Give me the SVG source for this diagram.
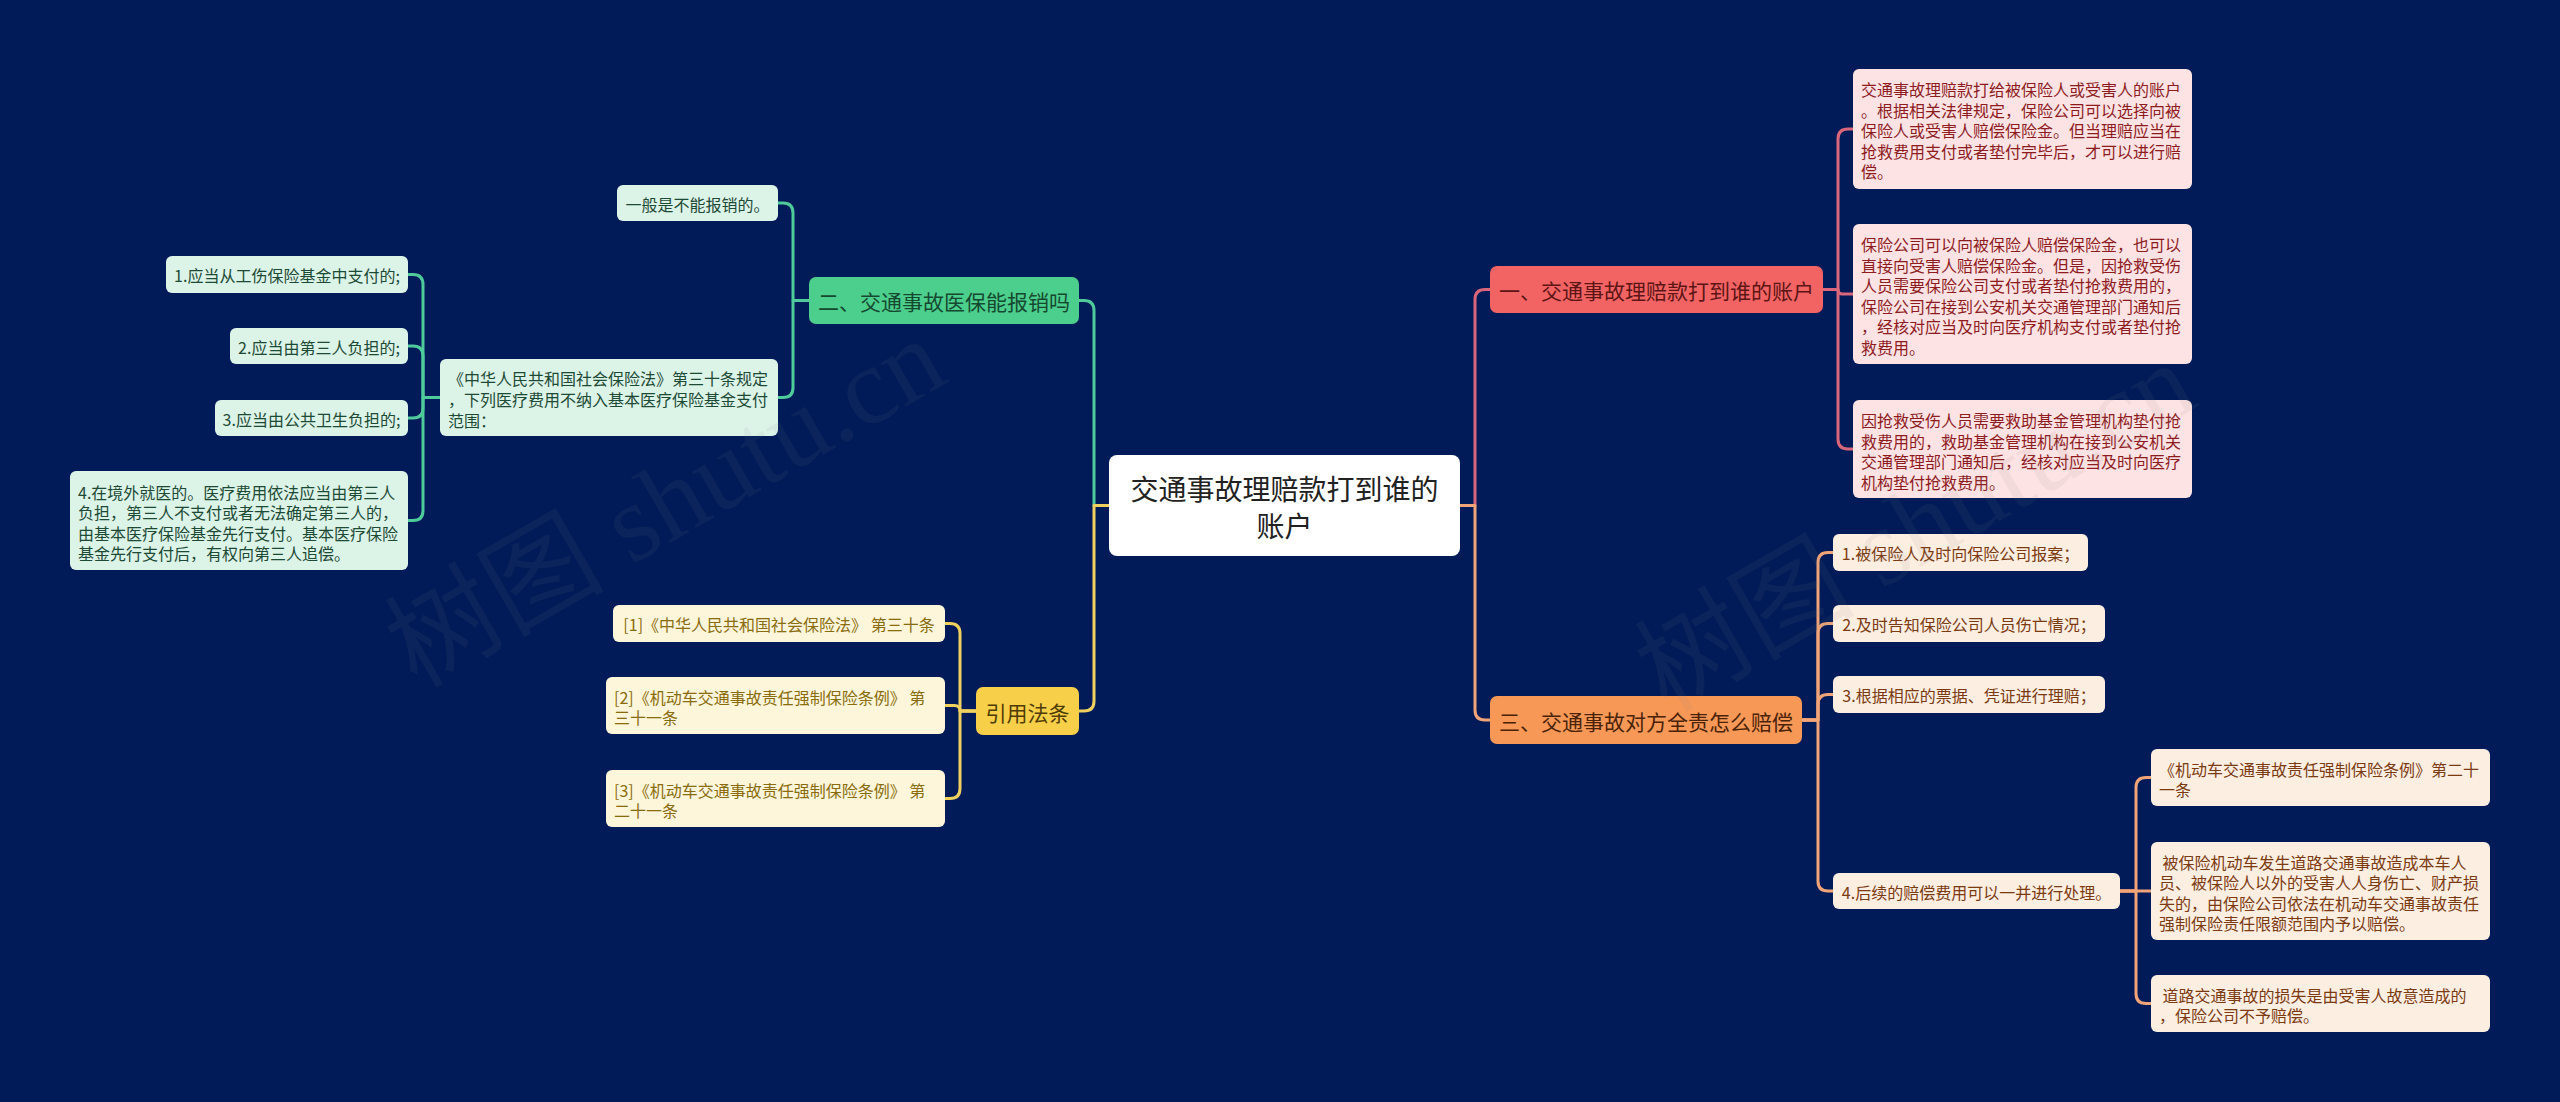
<svg xmlns="http://www.w3.org/2000/svg" width="2560" height="1102" viewBox="0 0 2560 1102">
<defs>
<style>
text{font-family:"Noto Sans CJK SC","Noto Sans",sans-serif;}
.c{fill:none;stroke-width:3;stroke-linecap:round;stroke-linejoin:round;}
.cp{stroke:#d9667a;}
.cg{stroke:#4fcb9b;}
.co{stroke:#f0a477;}
.cy{stroke:#f1d15e;}
.root{fill:#ffffff;}
.roott{font-size:28px;fill:#222222;text-anchor:middle;dominant-baseline:central;}
.mt{font-size:21px;dominant-baseline:central;text-anchor:middle;}
.lt{font-size:16px;dominant-baseline:central;}
.mid{text-anchor:middle;}
.nr{fill:#f26464;} .nrt{fill:#5c1414;}
.ng{fill:#4ccf8d;} .ngt{fill:#14492f;}
.no{fill:#f79857;} .not{fill:#4a2207;}
.ny{fill:#f8cf48;} .nyt{fill:#4e3b04;}
.lp{fill:#fde3e4;} .lpt{fill:#8e1c1f;}
.lg{fill:#dcf3e8;} .lgt{fill:#1d4a35;}
.lo{fill:#fdeee2;} .lot{fill:#7b3a10;}
.ly{fill:#fdf6da;} .lyt{fill:#8a6c0c;}
.wm{font-family:"Liberation Serif","Noto Sans CJK SC",serif;font-size:110px;fill:#808080;fill-opacity:0.09;}
</style>
</defs>
<rect x="0" y="0" width="2560" height="1102" fill="#011b58"/>

<g id="connectors">
<path class="c cp" d="M1460,505.5 H1475 V299.5 Q1475,289.5 1485,289.5 H1490"/>
<path class="c co" d="M1460,505.5 H1475 V710 Q1475,720 1485,720 H1490"/>
<path class="c cg" d="M1109,505.5 H1094 V310.5 Q1094,300.5 1084,300.5 H1079"/>
<path class="c cy" d="M1109,505.5 H1094 V701 Q1094,711 1084,711 H1079"/>

<path class="c cp" d="M1823,289.5 H1838 V139 Q1838,129 1848,129 H1853"/>
<path class="c cp" d="M1823,289.5 H1838 Q1838,294 1842.5,294 H1853"/>
<path class="c cp" d="M1823,289.5 H1838 V439 Q1838,449 1848,449 H1853"/>

<path class="c cg" d="M809,300.5 H793 V213 Q793,203 783,203 H778"/>
<path class="c cg" d="M809,300.5 H793 V387.5 Q793,397.5 783,397.5 H778"/>

<path class="c cg" d="M440,397.5 H423 V284.5 Q423,274.5 413,274.5 H408"/>
<path class="c cg" d="M440,397.5 H423 V356 Q423,346 413,346 H408"/>
<path class="c cg" d="M440,397.5 H423 V408 Q423,418 413,418 H408"/>
<path class="c cg" d="M440,397.5 H423 V510.5 Q423,520.5 413,520.5 H408"/>

<path class="c co" d="M1802,720 H1818 V562.5 Q1818,552.5 1828,552.5 H1833"/>
<path class="c co" d="M1802,720 H1818 V633.5 Q1818,623.5 1828,623.5 H1833"/>
<path class="c co" d="M1802,720 H1818 V704.5 Q1818,694.5 1828,694.5 H1833"/>
<path class="c co" d="M1802,720 H1818 V881 Q1818,891 1828,891 H1833"/>

<path class="c co" d="M2120,891 H2136 V787.5 Q2136,777.5 2146,777.5 H2151"/>
<path class="c co" d="M2120,891 H2151"/>
<path class="c co" d="M2120,891 H2136 V993.5 Q2136,1003.5 2146,1003.5 H2151"/>

<path class="c cy" d="M976,711 H960 V633.5 Q960,623.5 950,623.5 H945"/>
<path class="c cy" d="M976,711 H960 Q960,705.5 954.5,705.5 H945"/>
<path class="c cy" d="M976,711 H960 V788.5 Q960,798.5 950,798.5 H945"/>
</g>

<g id="root">
<rect class="root" x="1109" y="455" width="351" height="101" rx="8"/>
<text class="roott"><tspan x="1284.5" y="488">交通事故理赔款打到谁的</tspan><tspan x="1284.5" y="525">账户</tspan></text>
</g>

<g id="n1">
<rect class="nr" x="1490" y="266" width="333" height="47" rx="7"/>
<text class="mt nrt" x="1656.5" y="290">一、交通事故理赔款打到谁的账户</text>
</g>
<g id="n1-1">
<rect class="lp" x="1853" y="69" width="339" height="120" rx="6"/>
<text class="lt lpt"><tspan x="1861" y="89">交通事故理赔款打给被保险人或受害人的账户</tspan><tspan x="1861" y="109.5">。根据相关法律规定，保险公司可以选择向被</tspan><tspan x="1861" y="130">保险人或受害人赔偿保险金。但当理赔应当在</tspan><tspan x="1861" y="150.5">抢救费用支付或者垫付完毕后，才可以进行赔</tspan><tspan x="1861" y="171">偿。</tspan></text>
</g>
<g id="n1-2">
<rect class="lp" x="1853" y="224" width="339" height="140" rx="6"/>
<text class="lt lpt"><tspan x="1861" y="244">保险公司可以向被保险人赔偿保险金，也可以</tspan><tspan x="1861" y="264.5">直接向受害人赔偿保险金。但是，因抢救受伤</tspan><tspan x="1861" y="285">人员需要保险公司支付或者垫付抢救费用的，</tspan><tspan x="1861" y="305.5">保险公司在接到公安机关交通管理部门通知后</tspan><tspan x="1861" y="326">，经核对应当及时向医疗机构支付或者垫付抢</tspan><tspan x="1861" y="346.5">救费用。</tspan></text>
</g>
<g id="n1-3">
<rect class="lp" x="1853" y="400" width="339" height="98" rx="6"/>
<text class="lt lpt"><tspan x="1861" y="420">因抢救受伤人员需要救助基金管理机构垫付抢</tspan><tspan x="1861" y="440.5">救费用的，救助基金管理机构在接到公安机关</tspan><tspan x="1861" y="461">交通管理部门通知后，经核对应当及时向医疗</tspan><tspan x="1861" y="481.5">机构垫付抢救费用。</tspan></text>
</g>

<g id="n2">
<rect class="ng" x="809" y="277" width="270" height="47" rx="7"/>
<text class="mt ngt" x="944" y="301">二、交通事故医保能报销吗</text>
</g>
<g id="n2-1">
<rect class="lg" x="617" y="185" width="161" height="36" rx="6"/>
<text class="lt lgt mid" x="697.5" y="203.5">一般是不能报销的。</text>
</g>
<g id="n2-2">
<rect class="lg" x="440" y="359" width="338" height="77" rx="6"/>
<text class="lt lgt"><tspan x="448" y="377.5">《中华人民共和国社会保险法》第三十条规定</tspan><tspan x="448" y="398.5">，下列医疗费用不纳入基本医疗保险基金支付</tspan><tspan x="448" y="419.5">范围：</tspan></text>
</g>
<g id="n2-2-1">
<rect class="lg" x="166" y="256" width="242" height="37" rx="6"/>
<text class="lt lgt mid" x="287" y="275">1.应当从工伤保险基金中支付的;</text>
</g>
<g id="n2-2-2">
<rect class="lg" x="230" y="328" width="178" height="36" rx="6"/>
<text class="lt lgt mid" x="319" y="346.5">2.应当由第三人负担的;</text>
</g>
<g id="n2-2-3">
<rect class="lg" x="215" y="400" width="193" height="36" rx="6"/>
<text class="lt lgt mid" x="311.5" y="418.5">3.应当由公共卫生负担的;</text>
</g>
<g id="n2-2-4">
<rect class="lg" x="70" y="471" width="338" height="99" rx="6"/>
<text class="lt lgt"><tspan x="78" y="491.5">4.在境外就医的。医疗费用依法应当由第三人</tspan><tspan x="78" y="512">负担，第三人不支付或者无法确定第三人的，</tspan><tspan x="78" y="532.5">由基本医疗保险基金先行支付。基本医疗保险</tspan><tspan x="78" y="553">基金先行支付后，有权向第三人追偿。</tspan></text>
</g>

<g id="n3">
<rect class="no" x="1490" y="696" width="312" height="48" rx="7"/>
<text class="mt not" x="1646" y="720.5">三、交通事故对方全责怎么赔偿</text>
</g>
<g id="n3-1">
<rect class="lo" x="1833" y="534" width="255" height="37" rx="6"/>
<text class="lt lot mid" x="1960.5" y="553">1.被保险人及时向保险公司报案；</text>
</g>
<g id="n3-2">
<rect class="lo" x="1833" y="605" width="272" height="37" rx="6"/>
<text class="lt lot mid" x="1969" y="624">2.及时告知保险公司人员伤亡情况；</text>
</g>
<g id="n3-3">
<rect class="lo" x="1833" y="676" width="272" height="37" rx="6"/>
<text class="lt lot mid" x="1969" y="695">3.根据相应的票据、凭证进行理赔；</text>
</g>
<g id="n3-4">
<rect class="lo" x="1833" y="873" width="287" height="36" rx="6"/>
<text class="lt lot mid" x="1976.5" y="891.5">4.后续的赔偿费用可以一并进行处理。</text>
</g>
<g id="n3-4-1">
<rect class="lo" x="2151" y="749" width="339" height="57" rx="6"/>
<text class="lt lot"><tspan x="2159" y="768.5">《机动车交通事故责任强制保险条例》第二十</tspan><tspan x="2159" y="789">一条</tspan></text>
</g>
<g id="n3-4-2">
<rect class="lo" x="2151" y="842" width="339" height="98" rx="6"/>
<text class="lt lot" xml:space="preserve"><tspan x="2159" y="861.5"> 被保险机动车发生道路交通事故造成本车人</tspan><tspan x="2159" y="882">员、被保险人以外的受害人人身伤亡、财产损</tspan><tspan x="2159" y="902.5">失的，由保险公司依法在机动车交通事故责任</tspan><tspan x="2159" y="923">强制保险责任限额范围内予以赔偿。</tspan></text>
</g>
<g id="n3-4-3">
<rect class="lo" x="2151" y="975" width="339" height="57" rx="6"/>
<text class="lt lot" xml:space="preserve"><tspan x="2159" y="994.5"> 道路交通事故的损失是由受害人故意造成的</tspan><tspan x="2159" y="1015">，保险公司不予赔偿。</tspan></text>
</g>

<g id="n4">
<rect class="ny" x="976" y="687" width="103" height="48" rx="7"/>
<text class="mt nyt" x="1027.5" y="711.5">引用法条</text>
</g>
<g id="n4-1">
<rect class="ly" x="613" y="605" width="332" height="37" rx="6"/>
<text class="lt lyt mid" x="779" y="624">[1]《中华人民共和国社会保险法》 第三十条</text>
</g>
<g id="n4-2">
<rect class="ly" x="606" y="677" width="339" height="57" rx="6"/>
<text class="lt lyt"><tspan x="614" y="696.5">[2]《机动车交通事故责任强制保险条例》 第</tspan><tspan x="614" y="717">三十一条</tspan></text>
</g>
<g id="n4-3">
<rect class="ly" x="606" y="770" width="339" height="57" rx="6"/>
<text class="lt lyt"><tspan x="614" y="789.5">[3]《机动车交通事故责任强制保险条例》 第</tspan><tspan x="614" y="810">二十一条</tspan></text>
</g>

<g id="watermark">
<text class="wm" x="665" y="540" text-anchor="middle" transform="rotate(-30 665 502)">树图 shutu.cn</text>
<text class="wm" x="1915" y="564" text-anchor="middle" transform="rotate(-30 1915 526)">树图 shutu.cn</text>
</g>
</svg>
